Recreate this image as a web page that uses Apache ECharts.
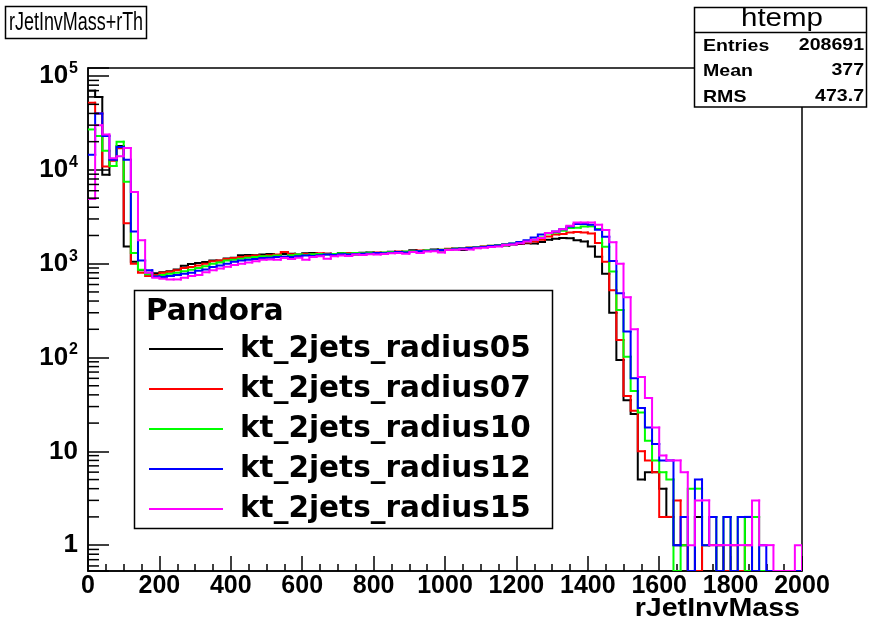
<!DOCTYPE html>
<html>
<head>
<meta charset="utf-8">
<script src="https://cdn.jsdelivr.net/npm/echarts@6/dist/echarts.min.js"></script>
<style>
  html, body { margin: 0; padding: 0; background: #ffffff; }
  #chart { width: 869px; height: 626px; }
</style>
</head>
<body>
<div id="chart"></div>
<script>
// Histogram binning: 100 bins of width 20 over [0, 2000]
const binWidth = 20;
const xMin = 0;
const xMax = 2000;

// Vertical (log) range of the frame
const yMin = 0.53;
const yMax = 1.22e5;

const seriesNames = [
  'kt_2jets_radius05',
  'kt_2jets_radius07',
  'kt_2jets_radius10',
  'kt_2jets_radius12',
  'kt_2jets_radius15'
];
const seriesColors = ['#000000', '#ff0000', '#00ff00', '#0000ff', '#ff00ff'];

// Bin contents per jet radius
const radius05 = [
  70000, 60000, 8900, 12800, 18000, 1530, 1050, 850, 800, 790,
  810, 830, 870, 950, 990, 1020, 1040, 1080, 1080, 1140,
  1160, 1230, 1240, 1230, 1250, 1270, 1240, 1270, 1280, 1250,
  1290, 1300, 1260, 1280, 1230, 1300, 1270, 1250, 1310, 1320,
  1290, 1290, 1340, 1310, 1330, 1390, 1350, 1380, 1420, 1380,
  1430, 1450, 1400, 1470, 1480, 1520, 1540, 1580, 1560, 1600,
  1620, 1650, 1640, 1700, 1800, 1840, 1880, 1870, 1780, 1720,
  1530, 1190, 780, 300, 94, 35, 25, 5, 6, 6,
  4, 2, 1, 1, 0, 2, 0, 0, 1, 0,
  0, 0, 2, 0, 0, 0, 0, 0, 0, 0
];
const radius07 = [
  52000, 40000, 10900, 12500, 17000, 2700, 1000, 800, 740, 760,
  800, 820, 850, 900, 920, 960, 1000, 1060, 1080, 1120,
  1150, 1180, 1200, 1220, 1210, 1230, 1250, 1330, 1260, 1240,
  1270, 1250, 1290, 1280, 1260, 1280, 1300, 1270, 1290, 1300,
  1320, 1310, 1300, 1350, 1340, 1360, 1380, 1370, 1400, 1410,
  1440, 1430, 1460, 1490, 1500, 1530, 1550, 1570, 1600, 1620,
  1650, 1680, 1720, 1800, 1950, 2050, 2080, 2150, 2180, 2150,
  2100, 1660, 1050, 520, 154, 39, 27, 10, 8, 6,
  2, 2, 3, 1, 0, 0, 1, 1, 1, 0,
  1, 0, 1, 0, 0, 0, 0, 0, 0, 0
];
const radius10 = [
  27000, 23000, 16000, 11000, 20000, 7500, 1300, 860, 770, 730,
  760, 780, 800, 830, 860, 900, 940, 1000, 1030, 1080,
  1100, 1130, 1160, 1180, 1200, 1200, 1220, 1190, 1230, 1250,
  1240, 1260, 1270, 1250, 1270, 1290, 1280, 1300, 1290, 1310,
  1300, 1320, 1330, 1320, 1350, 1360, 1370, 1380, 1390, 1410,
  1420, 1440, 1450, 1480, 1500, 1520, 1550, 1570, 1600, 1640,
  1680, 1720, 1800, 1900, 2100, 2150, 2250, 2400, 2420, 2500,
  2500, 2350, 1520, 825, 322, 102, 44, 26, 13, 8,
  6, 5, 0, 1, 4, 4, 1, 2, 0, 2,
  0, 2, 0, 2, 0, 0, 0, 0, 0, 0
];
const radius12 = [
  14500, 40000, 23000, 12800, 17500, 12800, 2200, 1080, 850, 730,
  720, 740, 760, 780, 800, 840, 870, 920, 960, 1000,
  1050, 1080, 1100, 1120, 1150, 1160, 1180, 1190, 1180, 1200,
  1220, 1210, 1230, 1250, 1240, 1260, 1250, 1270, 1280, 1280,
  1300, 1290, 1310, 1330, 1320, 1340, 1360, 1370, 1380, 1400,
  1410, 1430, 1450, 1470, 1490, 1510, 1540, 1560, 1600, 1640,
  1700, 1780, 1900, 2050, 2120, 2200, 2330, 2500, 2650, 2650,
  2600, 2300, 1940, 1070, 485, 189, 60, 29, 18, 12,
  8, 8, 1, 2, 0, 5, 1, 2, 0, 2,
  0, 2, 2, 0, 1, 0, 0, 0, 0, 0
];
const radius15 = [
  4900, 30000, 23800, 13300, 14000, 17100, 5800, 1780, 800, 710,
  690, 680, 680, 710, 740, 760, 810, 850, 890, 930,
  970, 1000, 1030, 1060, 1100, 1110, 1100, 1150, 1120, 1160,
  1100, 1180, 1200, 1130, 1200, 1220, 1210, 1250, 1240, 1260,
  1250, 1270, 1290, 1300, 1280, 1330, 1300, 1350, 1360, 1320,
  1400, 1410, 1430, 1420, 1460, 1480, 1510, 1530, 1580, 1600,
  1650, 1720, 1800, 1880, 2120, 2200, 2330, 2540, 2750, 2750,
  2750, 2600, 2290, 1690, 1000, 440, 200, 62, 37, 18,
  9, 8, 8, 6, 1, 3, 3, 1, 1, 1,
  1, 1, 1, 3, 1, 1, 0, 0, 0, 1
];
const seriesValues = [radius05, radius07, radius10, radius12, radius15];

// Axis tick labels
const xTickLabels = ['0', '200', '400', '600', '800', '1000', '1200', '1400', '1600', '1800', '2000'];
const yDecades = [1, 10, 100, 1000, 10000, 100000];

// Statistics box contents
const statsTitle = 'htemp';
const statsRows = [['Entries', '208691'], ['Mean', '377'], ['RMS', '473.7']];

const plotTitle = 'rJetInvMass+rTh';
const xAxisTitle = 'rJetInvMass';
const legendHeader = 'Pandora';

// Log-axis minor tick values: 2..9 times each power of ten inside the range
const yMinorTicks = [];
for (let p = -1; p <= 5; p++) {
  for (let m = 2; m <= 9; m++) {
    const v = m * Math.pow(10, p);
    if (v > yMin && v < yMax) yMinorTicks.push([0, v]);
  }
}

// Build [binLow, binHigh, content, previousContent] rows for the step outline
function histRows(values) {
  return values.map((v, i) => [
    xMin + i * binWidth,
    xMin + (i + 1) * binWidth,
    v,
    i === 0 ? v : values[i - 1]
  ]);
}

function stepRenderer(count) {
  return function (params, api) {
    const i = params.dataIndex;
    const x0 = api.value(0);
    const x1 = api.value(1);
    const v = Math.max(api.value(2), yMin);
    const pv = Math.max(api.value(3), yMin);
    const pts = [api.coord([x0, pv]), api.coord([x0, v]), api.coord([x1, v])];
    if (i === count - 1) pts.push(api.coord([x1, yMin]));
    return {
      type: 'polyline',
      shape: { points: pts },
      style: { stroke: api.visual('color'), lineWidth: 2, fill: null, lineCap: 'square', lineJoin: 'miter' },
      silent: true
    };
  };
}

const labelFont = 'Liberation Sans';

function decadeLabel(v) {
  const p = Math.round(Math.log10(v));
  if (Math.abs(Math.log10(v) - p) > 1e-6) return '';
  if (yDecades.indexOf(Math.pow(10, p)) < 0) return '';
  if (p === 0) return '{b|1}';
  if (p === 1) return '{b|10}';
  return '{b|10}{s|' + p + '}';
}

const histSeries = seriesNames.map((name, k) => ({
  name: name,
  type: 'custom',
  color: seriesColors[k],
  coordinateSystem: 'cartesian2d',
  clip: true,
  z: 3 + k,
  renderItem: stepRenderer(seriesValues[k].length),
  encode: { x: [0, 1], y: 2 },
  data: histRows(seriesValues[k])
}));

const minorTickSeries = {
  name: 'yMinorTicks',
  type: 'custom',
  coordinateSystem: 'cartesian2d',
  silent: true,
  z: 10,
  renderItem: function (params, api) {
    const p = api.coord([xMin, api.value(1)]);
    return {
      type: 'line',
      shape: { x1: p[0], y1: p[1], x2: p[0] + 11, y2: p[1] },
      style: { stroke: '#000', lineWidth: 1.5 }
    };
  },
  encode: { x: 0, y: 1 },
  data: yMinorTicks
};

// Horizontally scaled text used in the title and statistics boxes
function scaledText(text, x, y, size, weight, align, sx) {
  return {
    type: 'text', z: 101, x: x, y: y,
    scaleX: sx,
    style: {
      text: text, fontFamily: labelFont, fontSize: size, fontWeight: weight,
      fill: '#000', align: align, verticalAlign: 'middle'
    }
  };
}

const chart = echarts.init(document.getElementById('chart'), null, { renderer: 'canvas' });

chart.setOption({
  animation: false,
  backgroundColor: '#ffffff',
  grid: {
    left: 88, right: 67, top: 68, bottom: 55,
    containLabel: false,
    outerBoundsMode: 'none',
    show: true, borderColor: '#000', borderWidth: 1.5, backgroundColor: 'transparent'
  },
  xAxis: {
    type: 'value',
    min: xMin, max: xMax, interval: 200,
    axisLine: { show: true, lineStyle: { color: '#000', width: 1.5 } },
    axisTick: { show: true, inside: true, length: 15, lineStyle: { color: '#000', width: 1.5 } },
    minorTick: { show: true, splitNumber: 4, length: 7, lineStyle: { color: '#000', width: 1.5 } },
    splitLine: { show: false },
    axisLabel: {
      margin: 3, color: '#000', fontFamily: labelFont, fontWeight: 'bold', fontSize: 25,
      formatter: function (v) {
        const idx = Math.round((v - xMin) / 200);
        return xTickLabels[idx] !== undefined ? xTickLabels[idx] : '';
      }
    }
  },
  yAxis: {
    type: 'log',
    logBase: 10,
    min: yMin, max: yMax,
    axisLine: { show: true, lineStyle: { color: '#000', width: 1.5 } },
    axisTick: { show: true, inside: true, length: 21, lineStyle: { color: '#000', width: 1.5 } },
    splitLine: { show: false },
    axisLabel: {
      margin: 10, color: '#000',
      formatter: decadeLabel,
      rich: {
        b: { fontFamily: labelFont, fontWeight: 'bold', fontSize: 26, color: '#000' },
        s: { fontFamily: labelFont, fontWeight: 'bold', fontSize: 16, color: '#000', padding: [0, 0, 15, 1] }
      }
    }
  },
  legend: {
    show: true,
    orient: 'vertical',
    left: 149,
    top: 329,
    padding: 0,
    itemGap: 0,
    itemWidth: 74,
    itemHeight: 2,
    icon: 'rect',
    data: seriesNames,
    selectedMode: false,
    textStyle: {
      fontFamily: 'DejaVu Sans', fontWeight: 'bold', fontSize: 29.5, color: '#000',
      lineHeight: 40, padding: [0, 0, 0, 12]
    }
  },
  graphic: [
    // Plot title box
    {
      type: 'rect', z: 100,
      shape: { x: 5.5, y: 6.5, width: 141, height: 32 },
      style: { fill: '#fff', stroke: '#000', lineWidth: 1.5 }
    },
    scaledText(plotTitle, 9, 23, 26, 'normal', 'left', 0.69),
    // Statistics box
    {
      type: 'rect', z: 100,
      shape: { x: 694.5, y: 7.5, width: 172, height: 99.5 },
      style: { fill: '#fff', stroke: '#000', lineWidth: 1.5 }
    },
    {
      type: 'line', z: 101,
      shape: { x1: 694.5, y1: 32.5, x2: 866.5, y2: 32.5 },
      style: { stroke: '#000', lineWidth: 1.5 }
    },
    scaledText(statsTitle, 782, 19, 25, 'normal', 'center', 1.18),
    ...statsRows.flatMap((row, i) => [
      scaledText(row[0], 703, 46 + i * 25.5, 17, 'bold', 'left', 1.15),
      scaledText(row[1], 864, 45 + i * 25.5, 17, 'bold', 'right', 1.15)
    ]),
    // Legend frame and header
    {
      type: 'rect', z: 0,
      shape: { x: 134.5, y: 290.5, width: 418, height: 238 },
      style: { fill: '#fff', stroke: '#000', lineWidth: 1.5 }
    },
    {
      type: 'text', z: 1, x: 146, y: 312,
      style: { text: legendHeader, fontFamily: 'DejaVu Sans', fontWeight: 'bold', fontSize: 29.5, fill: '#000', align: 'left', verticalAlign: 'middle' }
    },
    // Horizontal axis title
    scaledText(xAxisTitle, 800, 609, 26, 'bold', 'right', 1.1)
  ],
  series: histSeries.concat([minorTickSeries])
});
</script>
</body>
</html>
